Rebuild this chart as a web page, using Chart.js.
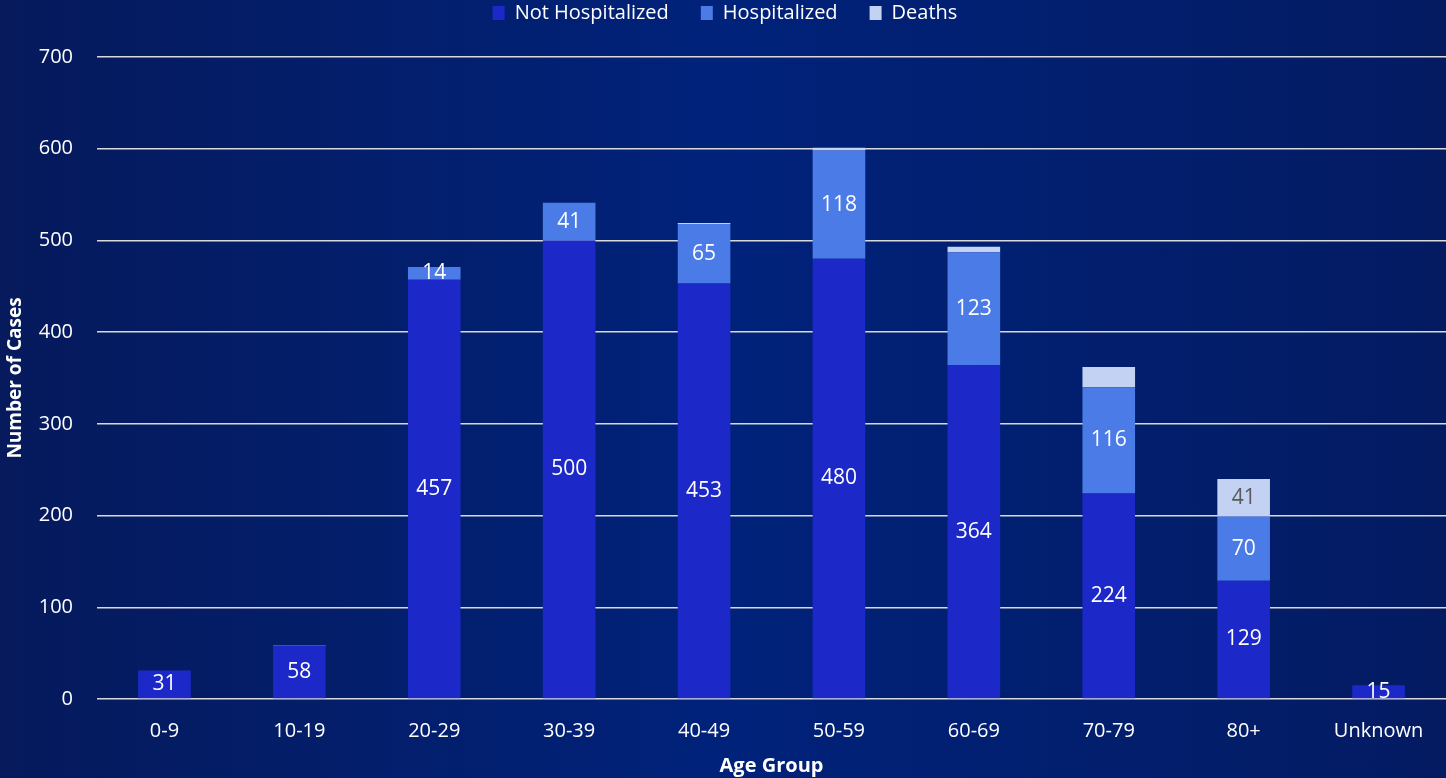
<!DOCTYPE html>
<html>
<head>
<meta charset="utf-8">
<script src="https://cdn.jsdelivr.net/npm/chart.js@4"></script>
<style>
  html, body { margin: 0; padding: 0; }
  body {
    width: 1446px; height: 778px; overflow: hidden;
    background: linear-gradient(90deg, #061a5c 0%, #00227a 50%, #041b62 100%);
  }
</style>
</head>
<body>
<canvas id="myChart" width="1446" height="778"></canvas>
<script>
// data
const ageGroups = ['0-9', '10-19', '20-29', '30-39', '40-49', '50-59', '60-69', '70-79', '80+', 'Unknown'];
const notHospitalized = [31, 58, 457, 500, 453, 480, 364, 224, 129, 15];
const hospitalized = [0, 1, 14, 41, 65, 118, 123, 116, 70, 0];
const deaths = [0, 0, 0, 0, 1, 3, 6, 22, 41, 0];
const yTicks = [0, 100, 200, 300, 400, 500, 600, 700];

const fontFamily = '"Open Sans", Lato, sans-serif';

// labels inside the bars
const barLabels = {
    id: 'barLabels',
    afterDatasetsDraw(chart) {
        const ctx = chart.ctx;
        ctx.save();
        ctx.font = '21px ' + fontFamily;
        ctx.textAlign = 'center';
        ctx.textBaseline = 'middle';
        chart.data.datasets.forEach((ds, i) => {
            const meta = chart.getDatasetMeta(i);
            meta.data.forEach((bar, j) => {
                const v = ds.data[j];
                if (v < ds.minLabel) return;
                const mid = (bar.y + bar.base) / 2;
                ctx.fillStyle = ds.labelColor;
                ctx.fillText(v, bar.x, mid);
            });
        });
        ctx.restore();
    }
};

// legend box a fixed height so the plot starts lower
const legendHeight = {
    id: 'legendHeight',
    afterInit(chart) {
        const fit = chart.legend.fit;
        chart.legend.fit = function () {
            fit.call(this);
            this.height = 86;
        };
    }
};

const ctx = document.getElementById('myChart');

new Chart(ctx, {
    type: 'bar',
    data: {
        labels: ageGroups,
        datasets: [
            { label: 'Not Hospitalized', data: notHospitalized, backgroundColor: '#1c28c8', minLabel: 10, labelColor: '#ffffff' },
            { label: 'Hospitalized', data: hospitalized, backgroundColor: '#4a7be6', minLabel: 10, labelColor: '#ffffff' },
            { label: 'Deaths', data: deaths, backgroundColor: '#c3d2f2', minLabel: 30, labelColor: '#595959' }
        ]
    },
    options: {
        responsive: false,
        animation: false,
        devicePixelRatio: 1,
        datasets: { bar: { barPercentage: 0.39, categoryPercentage: 1 } },
        layout: { padding: { top: -29, right: 0, left: 4, bottom: 0 } },
        plugins: {
            tooltip: { enabled: false },
            legend: {
                position: 'top',
                labels: {
                    color: '#ffffff',
                    font: { family: fontFamily, size: 20 },
                    boxWidth: 12,
                    boxHeight: 14,
                    padding: 32
                }
            }
        },
        scales: {
            x: {
                stacked: true,
                afterFit(axis) { axis.height = 79; },
                grid: { display: false },
                border: { display: false },
                ticks: { color: '#ffffff', font: { family: fontFamily, size: 20 }, padding: 12 },
                title: { display: true, text: 'Age Group', color: '#ffffff', font: { family: fontFamily, size: 20, weight: 'bold' }, padding: { top: 0, bottom: 0 } }
            },
            y: {
                stacked: true,
                min: 0,
                max: 700,
                afterBuildTicks(axis) { axis.ticks = yTicks.map(v => ({ value: v })); },
                afterFit(axis) { axis.width = 93; },
                grid: { color: '#d9d9d9', lineWidth: 1.5, drawTicks: false },
                border: { display: false },
                ticks: { color: '#ffffff', font: { family: fontFamily, size: 20 }, padding: 24 },
                title: { display: true, text: 'Number of Cases', color: '#ffffff', font: { family: fontFamily, size: 19, weight: 'bold' }, padding: 0 }
            }
        }
    },
    plugins: [barLabels, legendHeight]
});
</script>
</body>
</html>
